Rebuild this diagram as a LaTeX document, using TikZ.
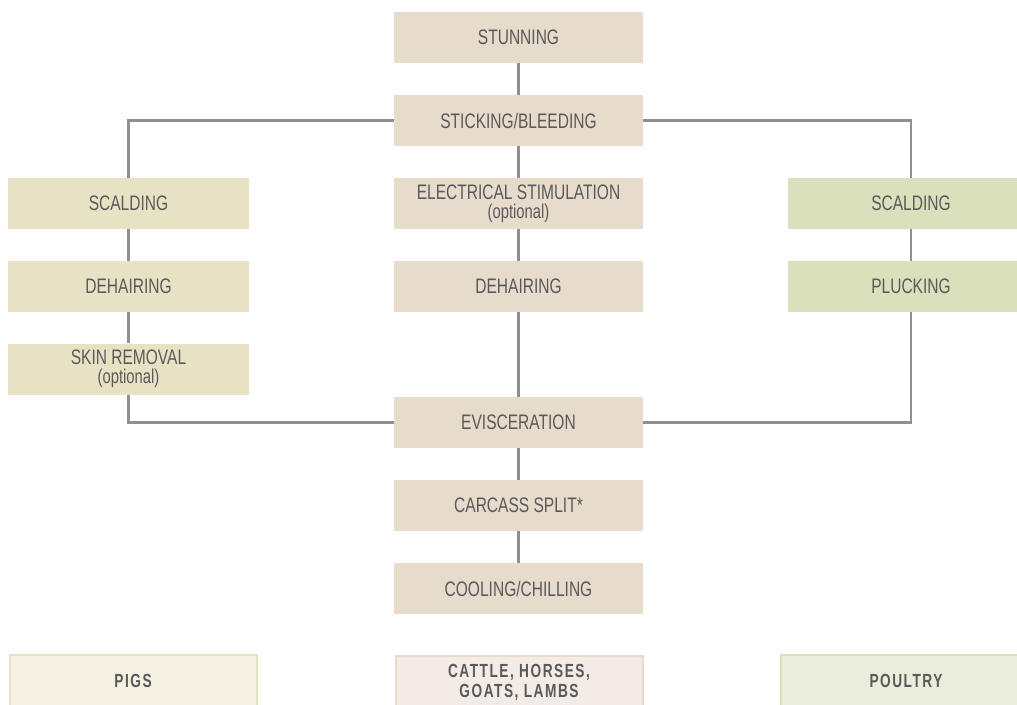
\documentclass[tikz,border=0pt]{standalone}
\usepackage{fontspec}
\setmainfont[FakeStretch=0.74]{Liberation Sans}
\newfontfamily\legfont[FakeStretch=0.72,LetterSpace=8]{Liberation Sans}
\definecolor{txt}{HTML}{5A5A5A}
\definecolor{cfill}{HTML}{E7DBCC}
\definecolor{lfill}{HTML}{E7E2C3}
\definecolor{rfill}{HTML}{DAE0BC}
\definecolor{clight}{HTML}{F3ECE6}
\definecolor{llight}{HTML}{F4F1E3}
\definecolor{rlight}{HTML}{EAEDDC}
\definecolor{lne}{HTML}{8F8F93}
\tikzset{
  stepbox/.style={rectangle, minimum height=51pt, inner sep=0pt, align=center, text=txt,
    font=\fontsize{21}{21}\selectfont},
  cbox/.style={stepbox, fill=cfill, minimum width=249pt},
  lbox/.style={stepbox, fill=lfill, minimum width=241pt},
  rbox/.style={stepbox, fill=rfill, minimum width=246pt},
  optbox/.style={font=\fontsize{20}{17}\selectfont},
  legbox/.style={rectangle, minimum height=52pt, inner sep=0pt, align=center, text=txt, line width=2pt,
    font=\legfont\bfseries\fontsize{19}{20}\selectfont},
  conn/.style={draw=lne, line width=2.4pt},
}
\begin{document}
\begin{tikzpicture}[x=1pt,y=-1pt]
\useasboundingbox (0,0) rectangle (1017,704);
\clip (0,0) rectangle (1017,704);
% center column
\node[cbox, optbox] (elec) at (518.5,203.5) {\fontsize{21}{21}\selectfont ELECTRICAL STIMULATION\\[2pt](optional)};
\node[cbox] (stun) at (518.5,37.5) {STUNNING};
\node[cbox] (stick) at (518.5,120.5) {STICKING/BLEEDING};
\node[cbox] (cdeh) at (518.5,286.5) {DEHAIRING};
\node[cbox] (evis) at (518.5,422.5) {EVISCERATION};
\node[cbox] (split) at (518.5,505.5) {CARCASS SPLIT*};
\node[cbox] (cool) at (518.5,588.5) {COOLING/CHILLING};
% left column
\node[lbox] (lsc) at (128.5,203.5) {SCALDING};
\node[lbox] (ldeh) at (128.5,286.5) {DEHAIRING};
\node[lbox, optbox] (lskin) at (128.5,369) {\fontsize{21}{21}\selectfont SKIN REMOVAL\\[2pt](optional)};
% right column
\node[rbox] (rsc) at (911,203.5) {SCALDING};
\node[rbox] (rpl) at (911,286.5) {PLUCKING};
% legend
\node[legbox, fill=llight, draw=lfill, minimum width=247pt] (pigs) at (133,681) {PIGS};
\node[legbox, fill=clight, draw=cfill, minimum width=247pt] (cattle) at (519,682) {CATTLE, HORSES,\\GOATS, LAMBS};
\node[legbox, fill=rlight, draw=rfill, minimum width=250pt] (poul) at (906,681) {POULTRY};
% connectors
\draw[conn] (stun) -- (stick);
\draw[conn] (stick) -- (elec);
\draw[conn] (elec) -- (cdeh);
\draw[conn] (cdeh) -- (evis);
\draw[conn] (evis) -- (split);
\draw[conn] (split) -- (cool);
\draw[conn] (stick.west) -| (lsc.north);
\draw[conn] (lsc) -- (ldeh);
\draw[conn] (ldeh) -- (lskin);
\draw[conn] (lskin.south) |- (evis.west);
\draw[conn] (stick.east) -| (rsc.north);
\draw[conn] (rsc) -- (rpl);
\draw[conn] (rpl.south) |- (evis.east);
\end{tikzpicture}
\end{document}
